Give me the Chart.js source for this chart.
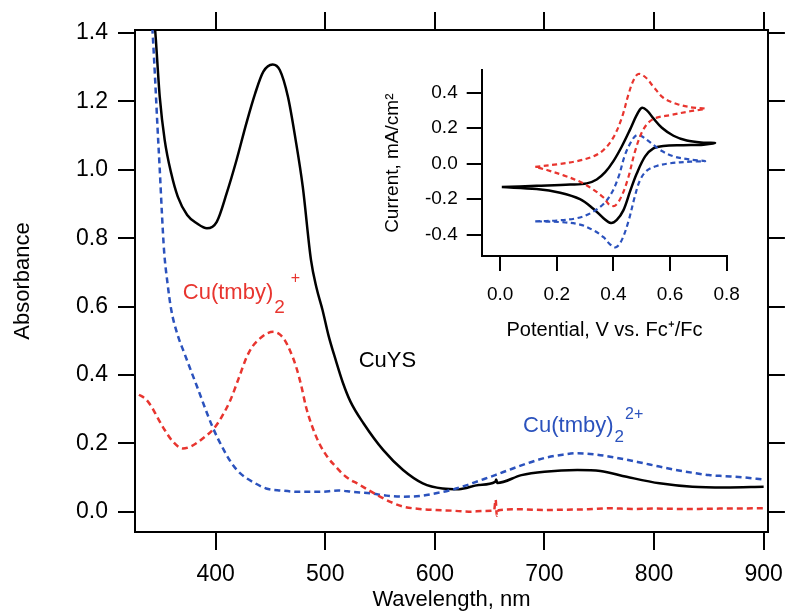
<!DOCTYPE html>
<html>
<head>
<meta charset="utf-8">
<script src="https://cdn.jsdelivr.net/npm/chart.js@4.4.1/dist/chart.umd.min.js"></script>
<style>
  html, body { margin: 0; padding: 0; background: #fff; }
  #wrap { position: relative; width: 794px; height: 613px; }
  #spectra { position: absolute; left: 0; top: 0; }
  #cv { position: absolute; left: 380px; top: 50px; }
</style>
</head>
<body>
<div id="wrap">
  <canvas id="spectra" width="794" height="613"></canvas>
  <canvas id="cv" width="380" height="300"></canvas>
</div>
<script>
const FONT = '"Liberation Sans", Arial, Helvetica, sans-serif';
const RED = '#e8352f';
const BLUE = '#2b52bd';

// eixos do espectro
const wavelengthTicks = [400, 500, 600, 700, 800, 900];
const absorbanceTicks = [0, 0.2, 0.4, 0.6, 0.8, 1.0, 1.2, 1.4];

// CuYS (linha preta)
const cuysWavelength = [341, 345, 349, 353.5, 359.5, 365.5, 374, 383, 392, 401, 410, 419, 428, 436, 443.5, 452, 458.5, 466, 473, 479.5, 487, 492, 497.5, 503, 509.5, 516, 523, 535, 553, 571, 589, 607, 622, 640, 655, 656, 657, 679, 700, 730, 751, 775, 805, 835, 865, 900];
const cuysAbsorbance = [1.55, 1.40, 1.213, 1.087, 0.989, 0.921, 0.868, 0.843, 0.829, 0.848, 0.931, 1.028, 1.136, 1.223, 1.287, 1.308, 1.292, 1.213, 1.087, 0.95, 0.736, 0.655, 0.59, 0.515, 0.444, 0.378, 0.322, 0.258, 0.180, 0.122, 0.083, 0.068, 0.066, 0.078, 0.087, 0.094, 0.084, 0.107, 0.117, 0.122, 0.119, 0.102, 0.083, 0.073, 0.071, 0.073];

// Cu(tmby)2+ (vermelho tracejado)
const cuIWavelength = [330, 336, 341.5, 347, 353.5, 361, 370, 378, 386.5, 398.5, 406, 413.5, 421, 428.4, 434, 440.5, 446, 452.5, 458, 463, 468, 473.4, 478, 482.4, 488, 494.5, 502, 509.5, 516, 523, 529, 540, 550, 560, 571, 586, 601, 616, 631, 645, 654, 655.5, 656.5, 658, 679, 700, 720, 740, 760, 780, 800, 830, 860, 900];
const cuIAbsorbance = [0.342, 0.33, 0.307, 0.275, 0.239, 0.205, 0.185, 0.192, 0.210, 0.244, 0.28, 0.327, 0.39, 0.453, 0.485, 0.507, 0.52, 0.526, 0.52, 0.502, 0.47, 0.424, 0.37, 0.307, 0.25, 0.200, 0.16, 0.132, 0.11, 0.093, 0.083, 0.062, 0.044, 0.028, 0.015, 0.008, 0.005, 0.003, 0.0, 0.002, 0.003, 0.035, -0.012, 0.004, 0.007, 0.005, 0.006, 0.007, 0.01, 0.008, 0.009, 0.008, 0.009, 0.01];

// Cu(tmby)2 2+ (azul tracejado)
const cuIIWavelength = [338, 342.5, 345, 347, 349, 351, 353, 356, 359.5, 365, 371.5, 383, 397, 407.5, 415, 422.5, 435, 446, 460, 476, 495, 512, 525, 541, 556, 571, 586, 601, 613, 625, 640, 655, 670, 685, 700, 715, 730, 745, 760, 775, 790, 805, 820, 835, 850, 865, 880, 900];
const cuIIAbsorbance = [1.62, 1.40, 1.25, 1.12, 1.00, 0.87, 0.76, 0.67, 0.59, 0.52, 0.463, 0.366, 0.249, 0.180, 0.14, 0.112, 0.085, 0.068, 0.062, 0.058, 0.058, 0.062, 0.058, 0.054, 0.047, 0.044, 0.046, 0.054, 0.062, 0.073, 0.090, 0.107, 0.125, 0.142, 0.157, 0.166, 0.171, 0.168, 0.161, 0.152, 0.142, 0.132, 0.122, 0.114, 0.107, 0.104, 0.101, 0.094];

// voltametria (inset)
const potentialTicks = [0, 0.2, 0.4, 0.6, 0.8];
const currentTicks = [-0.4, -0.2, 0, 0.2, 0.4];

const cvCuysPotential = [0.006, 0.129, 0.247, 0.306, 0.341, 0.371, 0.4, 0.429, 0.459, 0.482, 0.5, 0.518, 0.541, 0.571, 0.612, 0.659, 0.718, 0.759, 0.718, 0.647, 0.576, 0.541, 0.512, 0.482, 0.459, 0.435, 0.412, 0.391, 0.365, 0.329, 0.282, 0.212, 0.129, 0.006];
const cvCuysCurrent = [-0.132, -0.125, -0.118, -0.111, -0.089, -0.048, 0.014, 0.095, 0.193, 0.273, 0.314, 0.30, 0.255, 0.202, 0.157, 0.130, 0.118, 0.116, 0.107, 0.104, 0.100, 0.086, 0.041, -0.057, -0.155, -0.263, -0.316, -0.334, -0.307, -0.254, -0.2, -0.164, -0.143, -0.132];

const cvCuIPotential = [0.124, 0.2, 0.271, 0.329, 0.365, 0.4, 0.429, 0.453, 0.471, 0.488, 0.512, 0.541, 0.576, 0.624, 0.671, 0.724, 0.671, 0.6, 0.553, 0.524, 0.5, 0.476, 0.453, 0.429, 0.406, 0.386, 0.365, 0.329, 0.282, 0.224, 0.165, 0.124];
const cvCuICurrent = [-0.018, -0.004, 0.014, 0.041, 0.077, 0.148, 0.255, 0.389, 0.47, 0.505, 0.488, 0.434, 0.371, 0.336, 0.318, 0.309, 0.295, 0.273, 0.259, 0.232, 0.175, 0.068, -0.075, -0.182, -0.236, -0.232, -0.191, -0.146, -0.102, -0.066, -0.036, -0.018];

const cvCuIIPotential = [0.124, 0.2, 0.271, 0.318, 0.365, 0.394, 0.418, 0.441, 0.465, 0.482, 0.5, 0.529, 0.565, 0.612, 0.671, 0.724, 0.671, 0.6, 0.553, 0.518, 0.494, 0.476, 0.453, 0.429, 0.409, 0.388, 0.365, 0.329, 0.282, 0.212, 0.124];
const cvCuIICurrent = [-0.325, -0.320, -0.307, -0.280, -0.227, -0.164, -0.075, 0.05, 0.13, 0.161, 0.154, 0.121, 0.077, 0.041, 0.023, 0.014, 0.011, 0.002, -0.013, -0.039, -0.093, -0.182, -0.325, -0.432, -0.471, -0.454, -0.414, -0.375, -0.343, -0.329, -0.325];

const pares = (xs, ys) => xs.map((x, i) => ({ x, y: ys[i] }));
const fixTicks = vals => scale => { scale.ticks = vals.map(v => ({ value: v })); };

// rótulos das curvas, em coordenadas de dados
const rotulosPlugin = {
  id: 'rotulos',
  afterDatasetsDraw(chart) {
    const { ctx, scales: { x, y } } = chart;
    ctx.save();
    ctx.textBaseline = 'alphabetic';
    ctx.textAlign = 'left';

    ctx.fillStyle = '#000';
    ctx.font = '22px ' + FONT;
    ctx.fillText('CuYS', x.getPixelForValue(530.5), y.getPixelForValue(0.424));

    function formula(px, py, cor, subSize, subDy, sup, supGap, supDy) {
      ctx.fillStyle = cor;
      ctx.font = '22px ' + FONT;
      ctx.fillText('Cu(tmby)', px, py);
      const w = ctx.measureText('Cu(tmby)').width;
      ctx.font = subSize + 'px ' + FONT;
      ctx.fillText('2', px + w + 1, py + subDy);
      const ws = ctx.measureText('2').width;
      ctx.font = '16px ' + FONT;
      ctx.fillText(sup, px + w + 1 + ws + supGap, py + supDy);
    }
    formula(x.getPixelForValue(370), y.getPixelForValue(0.623), RED, 19, 14, '+', 6, -16);
    formula(x.getPixelForValue(680.5), y.getPixelForValue(0.234), BLUE, 17, 10, '2+', 1, -13);
    ctx.restore();
  }
};

const eixoBorda = { display: true, color: '#000', width: 2 };
const eixoGrade = (len) => ({ drawOnChartArea: false, drawTicks: true, tickLength: len, color: '#000', lineWidth: 2 });

// gráfico principal: absorbância
new Chart(document.getElementById('spectra').getContext('2d'), {
  type: 'line',
  data: {
    datasets: [
      { data: pares(cuIWavelength, cuIAbsorbance), borderColor: RED, borderWidth: 2.5, borderDash: [6, 4] },
      { data: pares(cuIIWavelength, cuIIAbsorbance), borderColor: BLUE, borderWidth: 2.5, borderDash: [6, 4] },
      { data: pares(cuysWavelength, cuysAbsorbance), borderColor: '#000', borderWidth: 2.5 }
    ]
  },
  options: {
    responsive: false,
    animation: false,
    devicePixelRatio: 1,
    layout: { padding: 0 },
    elements: { point: { radius: 0 }, line: { tension: 0.3, cubicInterpolationMode: 'monotone' } },
    plugins: { legend: { display: false }, tooltip: { enabled: false } },
    scales: {
      x: {
        type: 'linear', position: 'bottom', min: 326.4, max: 903.9,
        afterBuildTicks: fixTicks(wavelengthTicks),
        afterFit: s => { s.height = 81; },
        border: eixoBorda, grid: eixoGrade(18),
        ticks: { color: '#000', font: { size: 23, family: FONT }, padding: 11, maxRotation: 0, autoSkip: false },
        title: { display: true, text: 'Wavelength, nm', color: '#000', font: { size: 22, family: FONT }, padding: { top: 0, bottom: 0 } }
      },
      xTopo: {
        type: 'linear', position: 'top', min: 326.4, max: 903.9,
        afterBuildTicks: fixTicks(wavelengthTicks),
        afterFit: s => { s.height = 30; },
        border: eixoBorda, grid: eixoGrade(18), ticks: { display: false }
      },
      y: {
        type: 'linear', position: 'left', min: -0.0594, max: 1.409,
        afterBuildTicks: fixTicks(absorbanceTicks),
        afterFit: s => { s.width = 135; },
        border: eixoBorda, grid: eixoGrade(17),
        ticks: { color: '#000', font: { size: 23, family: FONT }, padding: 10, callback: v => v.toFixed(1) },
        title: { display: true, text: 'Absorbance', color: '#000', font: { size: 22, family: FONT }, padding: { top: 10, bottom: 0 } }
      },
      yDireita: {
        type: 'linear', position: 'right', min: -0.0594, max: 1.409,
        afterBuildTicks: fixTicks(absorbanceTicks),
        afterFit: s => { s.width = 18; },
        border: eixoBorda, grid: eixoGrade(17), ticks: { display: false }
      }
    }
  },
  plugins: [rotulosPlugin]
});

// inset: voltametria cíclica
new Chart(document.getElementById('cv').getContext('2d'), {
  type: 'scatter',
  data: {
    datasets: [
      { data: pares(cvCuIPotential, cvCuICurrent), showLine: true, borderColor: RED, borderWidth: 2.2, borderDash: [5, 3.5] },
      { data: pares(cvCuIIPotential, cvCuIICurrent), showLine: true, borderColor: BLUE, borderWidth: 2.2, borderDash: [5, 3.5] },
      { data: pares(cvCuysPotential, cvCuysCurrent), showLine: true, borderColor: '#000', borderWidth: 2.5 }
    ]
  },
  options: {
    responsive: false,
    animation: false,
    devicePixelRatio: 1,
    layout: { padding: { left: 0, top: 11.7, right: 32.7, bottom: 0 } },
    elements: { point: { radius: 0 }, line: { tension: 0.35 } },
    plugins: { legend: { display: false }, tooltip: { enabled: false } },
    scales: {
      x: {
        type: 'linear', min: -0.065, max: 0.802,
        afterBuildTicks: fixTicks(potentialTicks),
        afterFit: s => { s.height = 94; },
        border: eixoBorda, grid: eixoGrade(15),
        ticks: { color: '#000', font: { size: 19, family: FONT }, padding: 12, maxRotation: 0, autoSkip: false, callback: v => v.toFixed(1) },
        title: { display: true, text: 'Potential, V vs. Fc\u207A/Fc', color: '#000', font: { size: 20, family: FONT }, padding: { top: 0, bottom: 8 } }
      },
      y: {
        type: 'linear', min: -0.52, max: 0.525,
        afterBuildTicks: fixTicks(currentTicks),
        afterFit: s => { s.width = 101.7; },
        border: eixoBorda, grid: eixoGrade(15),
        ticks: { color: '#000', font: { size: 19, family: FONT }, padding: 9, callback: v => v.toFixed(1) },
        title: { display: true, text: 'Current, mA/cm\u00B2', color: '#000', font: { size: 19, family: FONT }, padding: { top: 1, bottom: 0 } }
      }
    }
  }
});
</script>
</body>
</html>
